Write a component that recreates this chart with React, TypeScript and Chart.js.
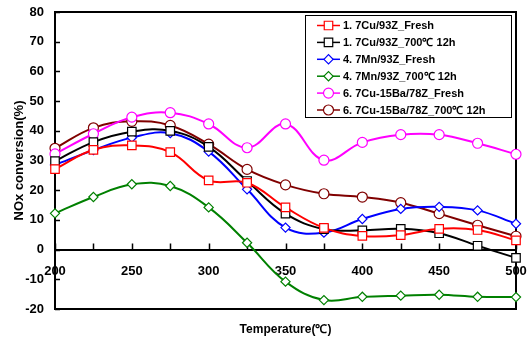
import React, { useEffect, useRef } from 'react';
import { Chart, registerables } from 'chart.js';

Chart.register(...registerables);

const temperatures = [200, 225, 250, 275, 300, 325, 350, 375, 400, 425, 450, 475, 500];

const seriesLabels = [
  '1. 7Cu/93Z_Fresh',
  '1. 7Cu/93Z_700\u2103 12h',
  '4. 7Mn/93Z_Fresh',
  '4. 7Mn/93Z_700\u2103 12h',
  '6. 7Cu-15Ba/78Z_Fresh',
  '6. 7Cu-15Ba/78Z_700\u2103 12h',
];

const cuFresh = [27.1, 33.6, 35.1, 32.8, 23.3, 22.5, 14.2, 7.3, 4.6, 4.9, 7.0, 6.6, 3.1];
const cuAged = [29.8, 36.2, 39.7, 40.0, 34.6, 23.1, 12.1, 6.9, 6.5, 7.0, 5.5, 1.3, -2.8];
const mnFresh = [28.5, 33.5, 37.7, 39.2, 33.0, 20.3, 7.4, 5.7, 10.3, 13.7, 14.4, 13.2, 8.7];
const mnAged = [12.2, 17.7, 22.0, 21.4, 14.2, 2.3, -10.8, -17.0, -15.9, -15.5, -15.2, -15.9, -16.0];
const cuBaFresh = [32.2, 39.0, 44.6, 46.1, 42.3, 34.3, 42.3, 30.1, 36.1, 38.7, 38.7, 35.8, 32.1];
const cuBaAged = [34.1, 41.0, 43.2, 41.8, 35.5, 27.0, 21.8, 18.8, 17.7, 15.8, 12.1, 8.2, 4.5];

const seriesValues = [cuFresh, cuAged, mnFresh, mnAged, cuBaFresh, cuBaAged];
const seriesColors = ['#FF0000', '#000000', '#0000FF', '#008000', '#FF00FF', '#800000'];
const seriesMarkers = ['rect', 'rect', 'rectRot', 'rectRot', 'circle', 'circle'];
const markerRadius = [6, 6, 4.6, 4.6, 5, 5];

const yMin = -20;
const yMax = 80;
const yStep = 10;
const xMin = 200;
const xMax = 500;
const xStep = 25;
const xLabelStep = 50;

const xTitle = 'Temperature(\u2103)';
const yTitle = 'NOx conversion(%)';

const FONT = "Arial, 'Liberation Sans', sans-serif";

function drawMarker(ctx: CanvasRenderingContext2D, style: string, x: number, y: number, r: number) {
  ctx.beginPath();
  if (style === 'rect') {
    const s = r * Math.SQRT1_2;
    ctx.rect(x - s, y - s, 2 * s, 2 * s);
  } else if (style === 'rectRot') {
    ctx.moveTo(x - r, y);
    ctx.lineTo(x, y - r);
    ctx.lineTo(x + r, y);
    ctx.lineTo(x, y + r);
    ctx.closePath();
  } else {
    ctx.arc(x, y, r, 0, Math.PI * 2);
  }
  ctx.fill();
  ctx.stroke();
}

const framePlugin = {
  id: 'frameAndTicks',
  beforeDatasetsDraw(chart: any) {
    const { ctx, chartArea } = chart;
    const xs = chart.scales.x;
    const ys = chart.scales.y;
    ctx.save();
    ctx.strokeStyle = '#000';
    ctx.lineWidth = 2;
    ctx.strokeRect(chartArea.left, chartArea.top, chartArea.right - chartArea.left, chartArea.bottom - chartArea.top);
    // inward tick marks
    ctx.lineWidth = 1.5;
    const y0 = ys.getPixelForValue(0);
    ctx.beginPath();
    xs.ticks.forEach((t: any) => {
      const px = Math.round(xs.getPixelForValue(t.value)) + 0.5;
      ctx.moveTo(px, y0);
      ctx.lineTo(px, y0 - 6);
    });
    ys.ticks.forEach((t: any) => {
      const py = Math.round(ys.getPixelForValue(t.value)) + 0.5;
      ctx.moveTo(chartArea.left, py);
      ctx.lineTo(chartArea.left + 5, py);
    });
    ctx.stroke();
    // x title
    ctx.fillStyle = '#000';
    ctx.font = `bold 12px ${FONT}`;
    ctx.textAlign = 'center';
    ctx.textBaseline = 'middle';
    ctx.fillText(xTitle, (chartArea.left + chartArea.right) / 2, 330);
    ctx.restore();
  },
};

const legendPlugin = {
  id: 'insideLegend',
  afterDraw(chart: any) {
    const { ctx } = chart;
    const bx = 305, by = 15, bw = 206, bh = 102;
    ctx.save();
    ctx.fillStyle = '#fff';
    ctx.fillRect(bx, by, bw, bh);
    ctx.strokeStyle = '#000';
    ctx.lineWidth = 1;
    ctx.strokeRect(bx + 0.5, by + 0.5, bw, bh);
    ctx.font = `bold 11px ${FONT}`;
    ctx.textBaseline = 'middle';
    ctx.textAlign = 'left';
    chart.data.datasets.forEach((ds: any, i: number) => {
      const cy = by + 10.5 + i * 16.9;
      ctx.strokeStyle = ds.borderColor;
      ctx.lineWidth = 1.5;
      ctx.beginPath();
      ctx.moveTo(317, cy);
      ctx.lineTo(340, cy);
      ctx.stroke();
      ctx.fillStyle = '#fff';
      ctx.lineWidth = 1.2;
      drawMarker(ctx, ds.pointStyle, 328.5, cy, ds.pointRadius);
      ctx.fillStyle = '#000';
      ctx.fillText(ds.label, 343, cy + 0.5);
    });
    ctx.restore();
  },
};

export default function App() {
  const canvasRef = useRef<HTMLCanvasElement | null>(null);

  useEffect(() => {
    document.body.style.margin = '0';
    const canvas = canvasRef.current;
    if (!canvas) return;
    const chart = new Chart(canvas, {
      type: 'line',
      data: {
        datasets: seriesLabels.map((label, i) => ({
          label,
          data: temperatures.map((t, j) => ({ x: t, y: seriesValues[i][j] })),
          borderColor: seriesColors[i],
          backgroundColor: '#ffffff',
          pointBackgroundColor: '#ffffff',
          pointBorderColor: seriesColors[i],
          pointBorderWidth: 1.2,
          pointStyle: seriesMarkers[i] as any,
          pointRadius: markerRadius[i],
          borderWidth: 2,
          tension: 0.4,
          fill: false,
          clip: false as any,
        })),
      },
      options: {
        responsive: false,
        animation: false,
        devicePixelRatio: 1,
        layout: { padding: { left: 0, right: 15, top: 12, bottom: 32 } },
        plugins: {
          legend: { display: false },
          tooltip: { enabled: false },
        },
        scales: {
          x: {
            type: 'linear',
            position: { y: 0 } as any,
            min: xMin,
            max: xMax,
            grid: { display: false, drawTicks: false, drawOnChartArea: false },
            border: { display: true, color: '#000', width: 2 },
            ticks: {
              stepSize: xStep,
              autoSkip: false,
              maxRotation: 0,
              padding: 14,
              color: '#000',
              font: { family: FONT, size: 13, weight: 'bold' },
              callback: (v: any) => (Number(v) % xLabelStep === 0 ? String(v) : ''),
            },
            afterFit: (s: any) => {
              s.paddingLeft = 0;
              s.paddingRight = 0;
            },
          },
          y: {
            type: 'linear',
            position: 'left',
            min: yMin,
            max: yMax,
            grid: { display: false, drawTicks: false, drawOnChartArea: false },
            border: { display: true, color: '#000', width: 2 },
            ticks: {
              stepSize: yStep,
              padding: 11,
              color: '#000',
              font: { family: FONT, size: 13, weight: 'bold' },
            },
            title: {
              display: true,
              text: yTitle,
              color: '#000',
              font: { family: FONT, size: 13, weight: 'bold' },
              padding: { top: 12, bottom: 0 },
            },
            afterFit: (s: any) => {
              s.width = 55;
              s.paddingTop = 0;
              s.paddingBottom = 0;
            },
          },
        },
      },
      plugins: [framePlugin, legendPlugin],
    });
    return () => chart.destroy();
  }, []);

  return (
    <div style={{ position: 'absolute', left: 0, top: 0, width: 531, height: 341 }}>
      <canvas ref={canvasRef} width={531} height={341} />
    </div>
  );
}
